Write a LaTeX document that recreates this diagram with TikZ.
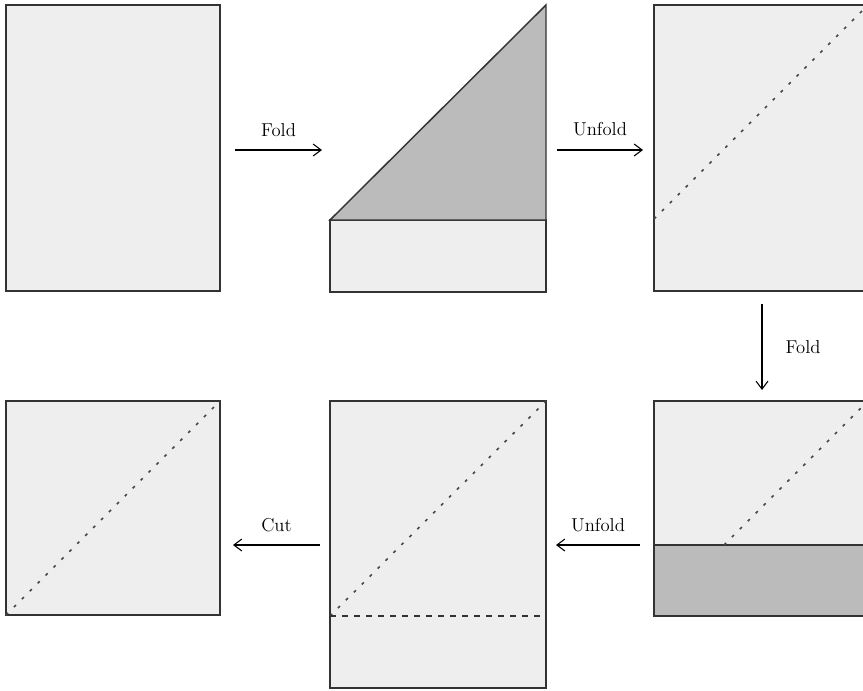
\documentclass[tikz,border=0pt]{standalone}
\usetikzlibrary{positioning,arrows.meta}
\definecolor{paper}{HTML}{EEEEEE}
\definecolor{flap}{HTML}{BBBBBB}
\definecolor{edge}{HTML}{333333}
\tikzset{
  sheet/.style={draw=edge, line width=1.1pt, fill=paper},
  backside/.style={draw=edge, line width=1.1pt, fill=flap},
  crease/.style={draw=edge!90, line width=1.2pt, dash pattern=on 2.2pt off 6.2pt},
  foldline/.style={draw=edge, line width=1.1pt, dash pattern=on 4.5pt off 4.5pt},
  move/.style={-{Straight Barb[length=6pt, width=9pt, line width=0.8pt]}, line width=0.9pt},
  steplabel/.style={font=\fontsize{14}{16}\selectfont}
}

\begin{document}
\begin{tikzpicture}[x=0.75pt,y=-0.75pt]
  \clip (0,0) rectangle (863,690);
  % top row
  \draw[sheet] (6,5) rectangle (220,291);
  \draw[sheet] (330,220) rectangle (546,292);
  \draw[backside] (330,220) -- (546,5) -- (546,220) -- cycle;
  \draw[sheet] (654,5) rectangle (868,291);
  \draw[crease] (654,219) -- (868,5);
  % bottom row
  \draw[sheet] (654,401) rectangle (868,545);
  \draw[backside] (654,545) rectangle (868,616);
  \draw[crease] (724,545) -- (868,401);
  \draw[sheet] (330,401) rectangle (546,688);
  \draw[crease] (330,616) -- (546,401);
  \draw[foldline] (330,616) -- (546,616);
  \draw[sheet] (6,401) rectangle (220,615);
  \draw[crease] (6,615) -- (220,401);
  % arrows
  \coordinate (fold1 a) at (235,150);
  \coordinate (fold1 b) at (322,150);
  \coordinate (unfold1 a) at (557,150);
  \coordinate (unfold1 b) at (643,150);
  \coordinate (fold2 a) at (762,304);
  \coordinate (fold2 b) at (762,390);
  \coordinate (unfold2 a) at (640,545);
  \coordinate (unfold2 b) at (556,545);
  \coordinate (cut a) at (320,545);
  \coordinate (cut b) at (233,545);
  \draw[move] (fold1 a) -- node[above=6pt, steplabel] (fold1 label) {Fold} (fold1 b);
  \draw[move] (unfold1 a) -- node[above=7pt, steplabel] (unfold1 label) {Unfold} (unfold1 b);
  \draw[move] (fold2 a) -- node[right=14pt, steplabel] (fold2 label) {Fold} (fold2 b);
  \draw[move] (unfold2 a) -- node[above=6pt, steplabel] (unfold2 label) {Unfold} (unfold2 b);
  \draw[move] (cut a) -- node[above=6pt, steplabel] (cut label) {Cut} (cut b);
\end{tikzpicture}
\end{document}
